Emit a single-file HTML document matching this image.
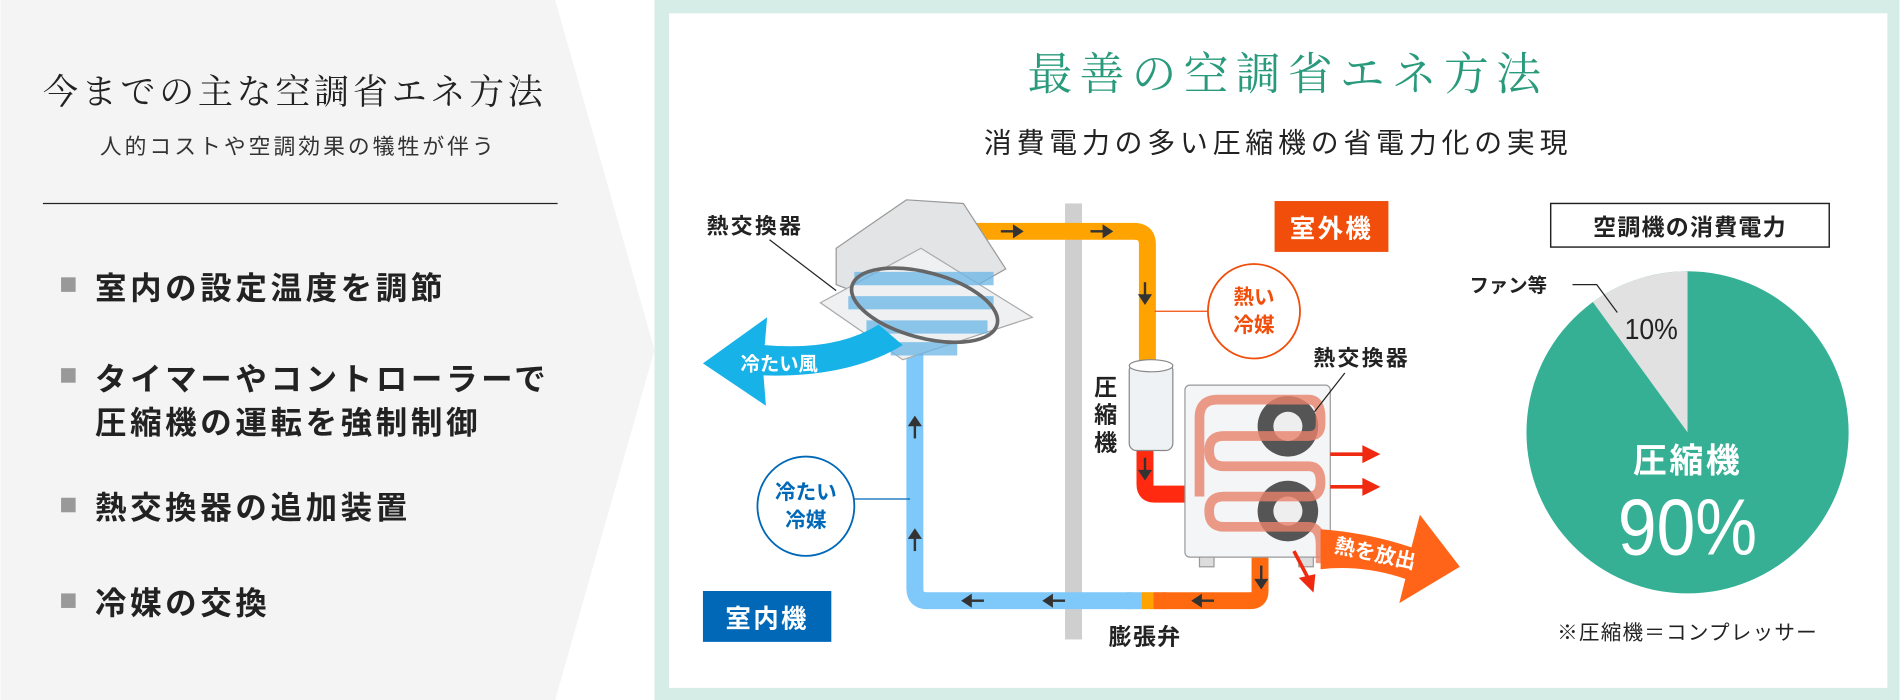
<!DOCTYPE html>
<html><head><meta charset="utf-8"><style>
html,body{margin:0;padding:0;background:#fff;}
svg{display:block;}
.s{font-family:"Liberation Serif","Noto Serif CJK SC",serif;}
.g{font-family:"Liberation Sans","Noto Sans CJK JP",sans-serif;}
</style></head><body>
<svg width="1900" height="700" viewBox="0 0 1568 578" xmlns="http://www.w3.org/2000/svg">
<rect width="1568" height="578" fill="#fff"/>
<polygon points="0,0 458,0 540,289 458,578 0,578" fill="#f4f4f4"/>
<rect x="540" y="0" width="1028" height="578" fill="#d5ede6"/>
<rect x="552" y="11" width="1006" height="557" fill="#fff"/>

<text class="s" x="35" y="86" font-size="29" letter-spacing="3" fill="#222">今までの主な空調省エネ方法</text>
<text class="g" x="82" y="127" font-size="18" letter-spacing="2.5" fill="#333">人的コストや空調効果の犠牲が伴う</text>
<line x1="35" y1="168" x2="460" y2="168" stroke="#222" stroke-width="1"/>
<g class="g" font-size="26" font-weight="bold" fill="#222" letter-spacing="3">
<rect x="50" y="229" width="12" height="12" fill="#999"/><text x="78" y="247">室内の設定温度を調節</text>
<rect x="50" y="304" width="12" height="12" fill="#999"/><text x="78" y="322">タイマーやコントローラーで</text>
<text x="78" y="358">圧縮機の運転を強制制御</text>
<rect x="50" y="411" width="12" height="12" fill="#999"/><text x="78" y="428">熱交換器の追加装置</text>
<rect x="50" y="490" width="12" height="12" fill="#999"/><text x="78" y="507">冷媒の交換</text>
</g>

<text class="s" x="848" y="74" font-size="37" letter-spacing="6" fill="#2a9a7c">最善の空調省エネ方法</text>
<text class="g" x="812" y="126" font-size="23" letter-spacing="4" fill="#222">消費電力の多い圧縮機の省電力化の実現</text>

<rect x="879" y="168" width="14" height="360" fill="#cfcfcf"/>

<path d="M765 191 H936 Q947 191 947 202 V305" fill="none" stroke="#ffa300" stroke-width="14"/>
<path d="M755 290 V486 Q755 496 765 496 H935" fill="none" stroke="#7ec8fa" stroke-width="14"/>
<path d="M945 370 V400 Q945 408 953 408 H990" fill="none" stroke="#ff2a10" stroke-width="14"/>
<path d="M1040 460 V488 Q1040 496 1032 496 H960" fill="none" stroke="#ff6a10" stroke-width="14"/>
<rect x="930" y="489" width="12" height="14" fill="#7ec8fa"/>
<rect x="942" y="489" width="10" height="14" fill="#ffa300"/>
<rect x="952" y="489" width="10" height="14" fill="#ff6a10"/>
<g stroke="#333" stroke-width="2" fill="#333">
<line x1="826" y1="191" x2="838" y2="191"/><polygon points="837,187 837,195 843,191"/>
<line x1="900" y1="191" x2="912" y2="191"/><polygon points="911,187 911,195 917,191"/>
<line x1="945" y1="233" x2="945" y2="245"/><polygon points="941,244 949,244 945,250"/>
<line x1="945" y1="378" x2="945" y2="390"/><polygon points="941,389 949,389 945,395"/>
<line x1="1041" y1="467" x2="1041" y2="480"/><polygon points="1037,479 1045,479 1041,485"/>
<line x1="755" y1="362" x2="755" y2="350"/><polygon points="751,351 759,351 755,345"/>
<line x1="755" y1="455" x2="755" y2="443"/><polygon points="751,444 759,444 755,438"/>
<line x1="800" y1="496" x2="812" y2="496"/><polygon points="801,492 801,500 795,496"/>
<line x1="867" y1="496" x2="879" y2="496"/><polygon points="868,492 868,500 862,496"/>
<line x1="990" y1="496" x2="1002" y2="496"/><polygon points="991,492 991,500 985,496"/>
</g>

<polygon points="690,235 690,205 748,165 795,168 830,222 760,262" fill="#e2e4e6" stroke="#999" stroke-width="1"/>
<polygon points="677,250 760,205 852,262 745,297" fill="#eef0f2" stroke="#aaa" stroke-width="1"/>
<path d="M705 230 H820 M700 250 H820 M715 270 H815 M735 288 H790" stroke="#6bb6e6" stroke-width="11" opacity="0.75"/>
<ellipse cx="763" cy="252" rx="62" ry="27" fill="none" stroke="#666" stroke-width="3" transform="rotate(15 763 252)"/>
<path d="M745 285 Q700 312 630 310 L632 335 L580 300 L633 262 L631 285 Q690 290 725 268 Z" fill="#16b2e8"/>
<text class="g" x="611" y="306" font-size="16" font-weight="bold" fill="#fff">冷たい風</text>
<text class="g" x="583" y="193" font-size="18" font-weight="bold" letter-spacing="2" fill="#222">熱交換器</text>
<line x1="635" y1="198" x2="690" y2="240" stroke="#222" stroke-width="1"/>

<rect x="932" y="300" width="36" height="72" rx="6" fill="#eef2f5" stroke="#888"/>
<ellipse cx="950" cy="302" rx="18" ry="5" fill="#fff" stroke="#888"/>
<text class="g" font-size="19" font-weight="bold" fill="#222" x="903" y="326">圧</text>
<text class="g" font-size="19" font-weight="bold" fill="#222" x="903" y="349">縮</text>
<text class="g" font-size="19" font-weight="bold" fill="#222" x="903" y="372">機</text>

<rect x="978" y="318" width="120" height="142" rx="4" fill="#f3f5f7" stroke="#999"/>
<rect x="990" y="460" width="12" height="8" fill="#ddd" stroke="#999"/>
<rect x="1072" y="460" width="12" height="8" fill="#ddd" stroke="#999"/>
<circle cx="1063" cy="352" r="25" fill="#555"/><circle cx="1063" cy="352" r="12" fill="#eee"/>
<circle cx="1063" cy="422" r="25" fill="#555"/><circle cx="1063" cy="422" r="12" fill="#eee"/>
<path d="M990 410 V345 Q990 330 1005 330 H1080 Q1090 330 1090 345 V350 Q1090 360 1080 360 H1010 Q998 360 998 372 Q998 385 1010 385 H1080 Q1090 385 1090 398 Q1090 410 1080 410 H1010 Q998 410 998 422 Q998 435 1010 435 H1080 Q1090 435 1090 450 V465" fill="none" stroke="#e8826a" stroke-width="8" opacity="0.8"/>
<text class="g" x="1084" y="302" font-size="18" font-weight="bold" letter-spacing="2" fill="#222">熱交換器</text>
<line x1="1110" y1="308" x2="1085" y2="340" stroke="#222"/>
<g stroke="#f02a10" stroke-width="3" fill="#f02a10">
<line x1="1098" y1="375" x2="1128" y2="375"/><polygon points="1126,370 1136,375 1126,380"/>
<line x1="1098" y1="402" x2="1128" y2="402"/><polygon points="1126,397 1136,402 1126,407"/>
<line x1="1068" y1="455" x2="1080" y2="478"/><polygon points="1075,478 1084,476 1083,486"/>
</g>
<path d="M1090 437 Q1130 440 1165 452 L1172 425 L1205 468 L1155 498 L1160 478 Q1125 466 1090 470 Z" fill="#ff6418"/>
<text class="g" x="1100" y="462" font-size="17" font-weight="bold" fill="#fff" transform="rotate(12 1130 462)">熱を放出</text>

<rect x="1052" y="166" width="94" height="42" fill="#f04e0a"/>
<text class="g" x="1099" y="196" font-size="21" font-weight="bold" letter-spacing="2" fill="#fff" text-anchor="middle">室外機</text>
<rect x="580" y="488" width="106" height="42" fill="#0068b7"/>
<text class="g" x="633" y="518" font-size="21" font-weight="bold" letter-spacing="2" fill="#fff" text-anchor="middle">室内機</text>
<line x1="953" y1="257" x2="997" y2="257" stroke="#f04e0a"/>
<ellipse cx="1035" cy="257" rx="38" ry="39" fill="#fff" stroke="#f04e0a" stroke-width="1.5"/>
<text class="g" x="1035" y="251" font-size="17" font-weight="bold" fill="#f04e0a" text-anchor="middle">熱い</text>
<text class="g" x="1035" y="274" font-size="17" font-weight="bold" fill="#f04e0a" text-anchor="middle">冷媒</text>
<line x1="705" y1="412" x2="751" y2="412" stroke="#0068b7"/>
<ellipse cx="665" cy="418" rx="40" ry="41" fill="#fff" stroke="#0068b7" stroke-width="1.5"/>
<text class="g" x="665" y="412" font-size="17" font-weight="bold" fill="#0068b7" text-anchor="middle">冷たい</text>
<text class="g" x="665" y="435" font-size="17" font-weight="bold" fill="#0068b7" text-anchor="middle">冷媒</text>
<text class="g" x="945" y="532" font-size="19" font-weight="bold" letter-spacing="1" fill="#222" text-anchor="middle">膨張弁</text>

<rect x="1280" y="168" width="230" height="36" fill="#fff" stroke="#222" stroke-width="1.2"/>
<text class="g" x="1395" y="194" font-size="19" font-weight="bold" letter-spacing="1" fill="#222" text-anchor="middle">空調機の消費電力</text>
<circle cx="1393" cy="357" r="133" fill="#35b094"/>
<path d="M1393 357 L1393 224 A133 133 0 0 0 1314.8 249.4 Z" fill="#e1e1e1"/>
<text class="g" x="1213" y="241" font-size="16" font-weight="bold" fill="#222">ファン等</text>
<polyline points="1298,235 1318,235 1335,258" fill="none" stroke="#222"/>
<text class="g" x="1363" y="280" font-size="24" fill="#222" text-anchor="middle" textLength="44" lengthAdjust="spacingAndGlyphs">10%</text>
<text class="g" x="1393" y="390" font-size="28" font-weight="bold" letter-spacing="2" fill="#fff" text-anchor="middle">圧縮機</text>
<text class="g" x="1393" y="458" font-size="66" fill="#fff" text-anchor="middle" textLength="115" lengthAdjust="spacingAndGlyphs">90%</text>
<text class="g" x="1393" y="528" font-size="17" letter-spacing="1" fill="#222" text-anchor="middle">※圧縮機＝コンプレッサー</text>
</svg>
</body></html>
